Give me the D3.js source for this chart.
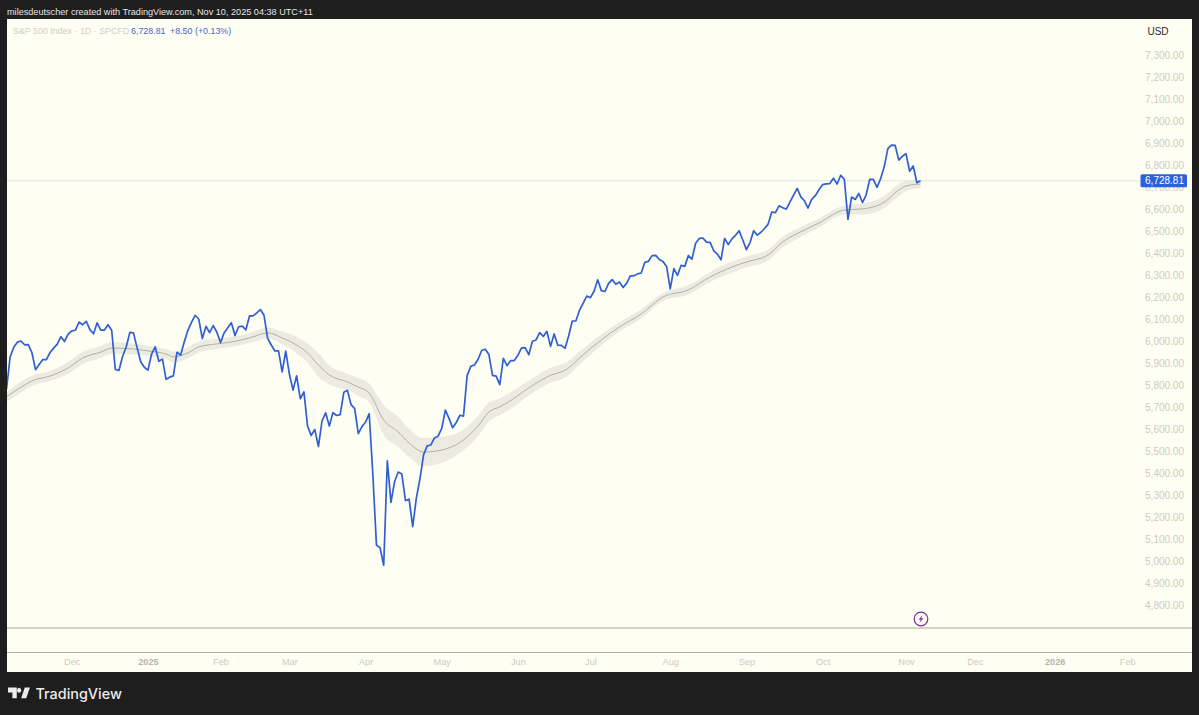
<!DOCTYPE html>
<html><head><meta charset="utf-8">
<script src="https://cdnjs.cloudflare.com/ajax/libs/d3/7.8.5/d3.min.js"></script>
<style>html,body{margin:0;padding:0;background:#1e1e1e;overflow:hidden}svg{display:block}text{font-family:Inter,"Liberation Sans",sans-serif}</style>
</head><body><svg id="c" width="1199" height="715"></svg>
<script>
const closeValues = [
5783,5929,5973,5996,6001,5984,5985,5949,5871,5894,5917,5917,5949,5969,5987,6021,5999,6032,
6047,6050,6087,6075,6090,6053,6034,6084,6051,6051,6075,6050,5872,5867,5931,5974,6040,6038,5971,5907,5882,
5869,5942,5975,5909,5919,5827,5837,5843,5950,5937,5997,6049,6086,6118,6101,6012,6068,6039,6071,6041,
5994,6038,6061,6084,6026,6066,6069,6052,6115,6115,6129,6144,6118,6013,5983,5956,5956,5861,5955,
5850,5778,5843,5739,5770,5615,5572,5599,5522,5639,5675,5615,5676,5663,5667,5768,5777,5712,5694,5581,5612,
5633,5671,5397,5074,5062,4983,5457,5268,5363,5406,5397,5276,5283,5158,5288,5376,5485,5525,5529,5561,5569,
5604,5687,5650,5607,5631,5664,5660,5844,5886,5892,5917,5958,5964,5940,5845,5842,5803,5922,5889,5912,5912,
5936,5970,5971,5939,6000,6006,6039,6022,6045,5977,6033,5982,5981,5968,6025,6092,6093,6141,6173,6205,
6198,6227,6279,6230,6226,6263,6280,6259,6269,6244,6264,6297,6297,6306,6310,6359,6363,6389,6390,6371,6362,6339,
6238,6330,6299,6345,6340,6389,6373,6445,6467,6469,6450,6449,6411,6396,6370,6467,6439,6465,6481,6502,6460,
6416,6448,6502,6482,6495,6512,6532,6587,6584,6615,6606,6600,6632,6664,6694,6656,6638,6605,6644,6661,6688,
6711,6715,6716,6740,6714,6754,6735,6553,6655,6644,6671,6630,6664,6735,6735,6699,6738,6792,6875,6891,6890,6823,6840,
6852,6772,6796,6720,6728.81];
const maSessions = [0,4,7,12,17,21,26,29,35,39,44,46,50,53,58,62,67,72,76,80,83,86,89,94,97,100,104,108,111,115,120,126,130,133,136,138,144,149,155,158,164,169,175,181,188,194,200,204,210,214,220,224,231,236,242,246,248,252];
const maValues = [5747,5792,5820,5842,5879,5924,5951,5969,5965,5956,5942,5929,5947,5974,5988,5997,6015,6038,6015,5983,5947,5892,5847,5815,5792,5765,5642,5588,5538,5497,5506,5552,5615,5679,5702,5720,5788,5838,5879,5924,6006,6065,6124,6201,6233,6292,6337,6360,6392,6451,6505,6537,6596,6601,6632,6687,6705,6714];
const bandHalf = [22,25,23,23,27,27,27,27,25,23,23,25,25,25,23,23,23,25,29,38,43,54,43,38,41,43,68,68,64,64,59,47,47,43,38,38,34,34,32,29,25,21,21,18,21,23,25,25,25,25,22,20,20,25,27,27,23,18];
const priceTicks = [4800,4900,5000,5100,5200,5300,5400,5500,5600,5700,5800,5900,6000,6100,6200,6300,6400,6500,6600,6700,6800,6900,7000,7100,7200,7300];
const timeTickSessions = [18,39,59,78,99,120,141,161,183,204,225,248,267,289,309];
const timeTickLabels = ["Dec","2025","Feb","Mar","Apr","May","Jun","Jul","Aug","Sep","Oct","Nov","Dec","2026","Feb"];
const lastPrice = 6728.81;

const svg = d3.select("#c");
const x = d3.scaleLinear().domain([0,252]).range([6.5,920.5]);
const y = d3.scaleLinear().domain([4800,7300]).range([605.5,55]);
const CREAM = "#fffef3";
const SANS = "'Liberation Sans',Arial,sans-serif";

svg.append("rect").attr("width",1199).attr("height",715).attr("fill","#1e1e1e");
svg.append("rect").attr("x",7).attr("y",19).attr("width",1185).attr("height",653).attr("fill",CREAM);
svg.append("defs").append("clipPath").attr("id","plot").append("rect").attr("x",7).attr("y",19).attr("width",1130).attr("height",609);

// header
svg.append("text").attr("x",7).attr("y",14.5).attr("font-size",9.15).style("font-family",SANS).attr("fill","#e4e4e4").text("milesdeutscher created with TradingView.com, Nov 10, 2025 04:38 UTC+11");
const lg = svg.append("text").attr("x",13).attr("y",34).attr("font-size",8.9).style("font-family",SANS);
lg.append("tspan").attr("fill","#cfcfc6").text("S&P 500 Index · 1D · SPCFD");
lg.append("tspan").attr("x",131).attr("fill","#3f66c4").text("6,728.81");
lg.append("tspan").attr("x",170).attr("fill","#3f66c4").text("+8.50 (+0.13%)");

// separators
svg.append("line").attr("x1",7).attr("x2",1192).attr("y1",628).attr("y2",628).attr("stroke","#a8a795").attr("stroke-width",1);
svg.append("line").attr("x1",7).attr("x2",1192).attr("y1",652.5).attr("y2",652.5).attr("stroke","#b3b2a2").attr("stroke-width",1);

// last price line
svg.append("line").attr("x1",7).attr("x2",1140).attr("y1",y(lastPrice)).attr("y2",y(lastPrice)).attr("stroke","#dfe5e6").attr("stroke-width",1);

const plot = svg.append("g").attr("clip-path","url(#plot)");
const idx = d3.range(maSessions.length);
plot.append("path").attr("fill","#ebebe1")
  .attr("d",d3.area().x(i=>x(maSessions[i])).y0(i=>y(maValues[i]-bandHalf[i])).y1(i=>y(maValues[i]+bandHalf[i])).curve(d3.curveMonotoneX)(idx));
plot.append("path").attr("fill","none").attr("stroke","#a9a99d").attr("stroke-width",0.9)
  .attr("d",d3.line().x(i=>x(maSessions[i])).y(i=>y(maValues[i])).curve(d3.curveMonotoneX)(idx));
plot.append("path").attr("fill","none").attr("stroke","#2f5fd2").attr("stroke-width",1.7).attr("stroke-linejoin","round")
  .attr("d",d3.line().x((d,i)=>x(i)).y(d=>y(d))(closeValues));

// price axis
const yAxis = svg.append("g").attr("transform","translate(1184,0)")
  .call(d3.axisRight(y).tickValues(priceTicks).tickSize(0).tickPadding(0).tickFormat(d3.format(",.2f")));
yAxis.select(".domain").remove();
yAxis.selectAll("text").attr("text-anchor","end").attr("font-size",10).attr("fill","#cbcbc3").style("font-family",SANS);

// time axis
const xAxis = svg.append("g").attr("transform","translate(0,653)")
  .call(d3.axisBottom(x).tickValues(timeTickSessions).tickSize(0).tickPadding(5).tickFormat((d,i)=>timeTickLabels[i]));
xAxis.select(".domain").remove();
xAxis.selectAll("text").attr("font-size",9.2).style("font-family",SANS)
  .attr("fill",(d,i)=>/^\d/.test(timeTickLabels[i])?"#b4b4ac":"#cbcbc3")
  .attr("font-weight",(d,i)=>/^\d/.test(timeTickLabels[i])?700:400);

// USD + last price tag
svg.append("text").attr("x",1158).attr("y",34.5).attr("text-anchor","middle").attr("font-size",10).style("font-family",SANS).attr("fill","#2a2a2a").text("USD");
svg.append("rect").attr("x",1140.5).attr("y",y(lastPrice)-6.5).attr("width",46.5).attr("height",13).attr("rx",1.5).attr("fill","#2a62de");
svg.append("text").attr("x",1184).attr("y",y(lastPrice)+3.6).attr("text-anchor","end").attr("font-size",10).style("font-family",SANS).attr("fill","#ffffff").text("6,728.81");

// purple flash marker
const m = svg.append("g").attr("transform","translate(921,619)");
m.append("circle").attr("r",6.8).attr("fill","#fdf8f2").attr("stroke","#7a2f98").attr("stroke-width",1.2);
m.append("path").attr("d","M1.6,-4 L-2.4,0.8 L-0.2,0.8 L-1.6,4 L2.4,-0.8 L0.2,-0.8 Z").attr("fill","#8a2fa8");

// logo
const logo = svg.append("g").attr("transform","translate(8,687.6) scale(0.73,0.88)").attr("fill","#ececec");
logo.append("path").attr("d","M0,0 H12 V12 H6 V5.5 H0 Z");
logo.append("circle").attr("cx",15.2).attr("cy",3).attr("r",2.9);
logo.append("path").attr("d","M18,12 L23,0 H30 L25,12 Z");
svg.append("text").attr("x",35.5).attr("y",698.5).attr("font-size",14.4).attr("font-weight",500).attr("fill","#ececec").text("TradingView");
</script></body></html>
